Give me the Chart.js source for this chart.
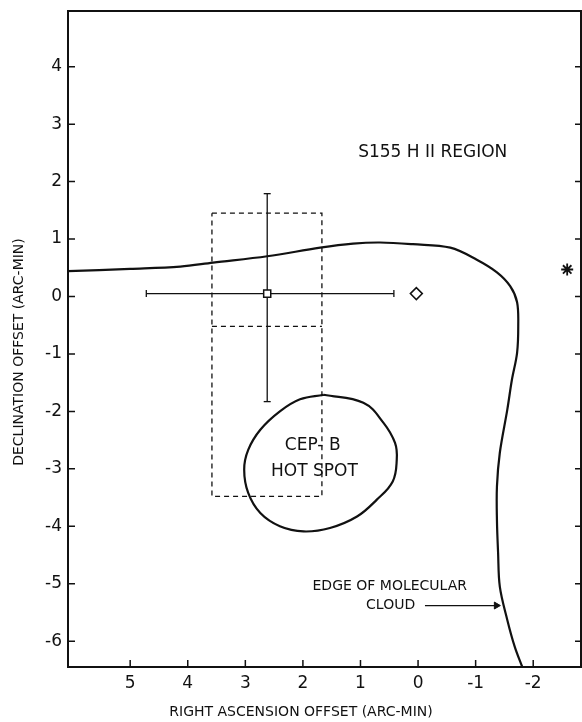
<!DOCTYPE html>
<html>
<head>
<meta charset="utf-8">
<script src="https://cdn.jsdelivr.net/npm/chart.js@4.4.1/dist/chart.umd.min.js"></script>
<style>
  html, body { margin: 0; padding: 0; background: #fff; overflow: hidden; }
  #wrap { position: relative; width: 582px; height: 722px; }
  canvas { display: block; }
</style>
</head>
<body>
<div id="wrap"><canvas id="chart"></canvas></div>
<script>
// axis ranges in arc-min (RA runs right to left)
const xRange = [-2.83, 6.08];
const yRange = [-6.45, 4.97];
const xTicks = [5, 4, 3, 2, 1, 0, -1, -2];
const yTicks = [4, 3, 2, 1, 0, -1, -2, -3, -4, -5, -6];

// edge of molecular cloud
const cloudX = [6.08, 5.0, 4.13, 3.56, 2.62, 1.70, 1.13, 0.66, 0.09, -0.56, -1.02, -1.37, -1.60, -1.72, -1.74, -1.72, -1.63, -1.55, -1.42, -1.37, -1.37, -1.39, -1.42, -1.55, -1.68, -1.81];
const cloudY = [0.44, 0.48, 0.52, 0.59, 0.70, 0.85, 0.92, 0.94, 0.91, 0.85, 0.64, 0.42, 0.18, -0.10, -0.52, -0.98, -1.45, -1.97, -2.72, -3.31, -3.89, -4.46, -5.05, -5.63, -6.10, -6.45];

// Cep-B hot spot outline (closed, starts at the top)
const spotX = [1.64, 0.95, 0.60, 0.40, 0.37, 0.44, 0.72, 1.06, 1.53, 1.99, 2.40, 2.74, 2.95, 3.02, 2.95, 2.74, 2.40, 2.05, 1.64];
const spotY = [-1.71, -1.85, -2.20, -2.55, -2.84, -3.22, -3.54, -3.83, -4.03, -4.09, -4.00, -3.77, -3.42, -3.01, -2.67, -2.32, -2.00, -1.79, -1.71];

// dashed box
const boxX = [3.58, 1.67, 1.67, 3.58, 3.58];
const boxY = [1.45, 1.45, -3.48, -3.48, 1.45];
const boxMidX = [3.58, 1.67];
const boxMidY = [-0.52, -0.52];

// source position with error bars
const srcX = 2.62, srcY = 0.05;
const srcXErr = [4.72, 0.42];
const srcYErr = [1.79, -1.83];

// other markers
const diamondPt = {x: 0.03, y: 0.05};
const starPt = {x: -2.59, y: 0.47};

// arrow to the cloud edge
const arrowX = [-0.12, -1.36];
const arrowY = [-5.38, -5.38];

// labels in data coordinates
const notes = [
  {text: 'S155 H II REGION', x: 1.04, y: 2.5, align: 'left', size: 17},
  {text: 'CEP- B', x: 1.83, y: -2.60, align: 'center', size: 17},
  {text: 'HOT SPOT', x: 1.80, y: -3.04, align: 'center', size: 17},
  {text: 'EDGE OF MOLECULAR', x: -0.85, y: -5.05, align: 'right', size: 14},
  {text: 'CLOUD', x: 0.05, y: -5.38, align: 'right', size: 14}
];

const FONT = "'DejaVu Sans', sans-serif";
const INK = '#111';

const pts = (xs, ys) => xs.map((v, i) => ({x: v, y: ys[i]}));

const framePlugin = {
  id: 'frame',
  afterDraw(chart) {
    const {ctx, chartArea: a, scales: {x, y}} = chart;
    ctx.save();
    ctx.strokeStyle = INK;
    ctx.lineWidth = 2;
    ctx.strokeRect(a.left, a.top, a.right - a.left, a.bottom - a.top);
    ctx.lineWidth = 1.5;
    ctx.beginPath();
    xTicks.forEach(v => {
      const px = x.getPixelForValue(v);
      ctx.moveTo(px, a.bottom);
      ctx.lineTo(px, a.bottom - 7);
    });
    yTicks.forEach(v => {
      const py = y.getPixelForValue(v);
      ctx.moveTo(a.left, py);
      ctx.lineTo(a.left + 7, py);
      ctx.moveTo(a.right, py);
      ctx.lineTo(a.right - 6, py);
    });
    ctx.stroke();

    ctx.fillStyle = INK;
    ctx.textBaseline = 'middle';
    notes.forEach(n => {
      ctx.font = n.size + 'px ' + FONT;
      ctx.textAlign = n.align;
      ctx.fillText(n.text, x.getPixelForValue(n.x), y.getPixelForValue(n.y));
    });

    // axis titles
    ctx.font = '14px ' + FONT;
    ctx.textAlign = 'center';
    ctx.fillText('RIGHT ASCENSION OFFSET (ARC-MIN)', a.left + 233, 712);
    ctx.translate(19, a.top + 341);
    ctx.rotate(-Math.PI / 2);
    ctx.fillText('DECLINATION OFFSET (ARC-MIN)', 0, 0);
    ctx.restore();
  }
};

const ctx = document.getElementById('chart').getContext('2d');
const myChart = new Chart(ctx, {
  type: 'scatter',
  data: {
    datasets: [
      // markers first so they sit on top
      {data: [{x: srcX, y: srcY}], pointStyle: 'rect', pointRadius: 5, pointBackgroundColor: '#fff', pointBorderColor: INK, pointBorderWidth: 1.5},
      {data: [diamondPt], pointStyle: 'rectRot', pointRadius: 6, pointBackgroundColor: '#fff', pointBorderColor: INK, pointBorderWidth: 1.5},
      {data: [starPt], pointStyle: 'star', pointRadius: 6, pointBorderColor: INK, pointBorderWidth: 1.8},
      // error bars
      {data: pts(srcXErr, [srcY, srcY]), showLine: true, borderColor: INK, borderWidth: 1.3, pointStyle: 'line', pointRotation: 90, pointRadius: 3.5, pointBorderColor: INK, pointBorderWidth: 1.3},
      {data: pts([srcX, srcX], srcYErr), showLine: true, borderColor: INK, borderWidth: 1.3, pointStyle: 'line', pointRotation: 0, pointRadius: 3.5, pointBorderColor: INK, pointBorderWidth: 1.3},
      // arrow
      {data: pts(arrowX, arrowY), showLine: true, borderColor: INK, borderWidth: 1.3, pointStyle: 'triangle', pointRotation: 90, pointRadius: [0, 4], pointBackgroundColor: INK, pointBorderColor: INK, pointBorderWidth: 1},
      // dashed box
      {data: pts(boxX, boxY), showLine: true, borderColor: INK, borderWidth: 1.3, borderDash: [5, 4], pointRadius: 0, tension: 0},
      {data: pts(boxMidX, boxMidY), showLine: true, borderColor: INK, borderWidth: 1.3, borderDash: [5, 4], pointRadius: 0, tension: 0},
      // hot spot
      {data: pts(spotX, spotY), showLine: true, borderColor: INK, borderWidth: 2.2, pointRadius: 0, tension: 0.4},
      // cloud edge
      {data: pts(cloudX, cloudY), showLine: true, borderColor: INK, borderWidth: 2.2, pointRadius: 0, tension: 0.35}
    ]
  },
  options: {
    responsive: true,
    maintainAspectRatio: false,
    animation: false,
    layout: {autoPadding: false, padding: {top: 11, right: 1, left: 0, bottom: 0}},
    plugins: {legend: {display: false}, tooltip: {enabled: false}},
    scales: {
      x: {
        type: 'linear',
        reverse: true,
        min: xRange[0],
        max: xRange[1],
        grid: {display: false, drawTicks: false},
        border: {display: false},
        afterBuildTicks: s => { s.ticks = xTicks.map(v => ({value: v})); },
        afterFit: s => { s.height = 55; s.paddingLeft = 0; s.paddingRight = 0; },
        ticks: {
          autoSkip: false,
          padding: 6,
          color: INK,
          font: {family: FONT, size: 17},
          callback: v => String(v)
        }
      },
      y: {
        type: 'linear',
        min: yRange[0],
        max: yRange[1],
        grid: {display: false, drawTicks: false},
        border: {display: false},
        afterBuildTicks: s => { s.ticks = yTicks.map(v => ({value: v})); },
        afterFit: s => { s.width = 68; s.paddingTop = 0; s.paddingBottom = 0; },
        ticks: {
          autoSkip: false,
          padding: 6,
          color: INK,
          font: {family: FONT, size: 17},
          callback: v => String(v)
        }
      }
    }
  },
  plugins: [framePlugin]
});
</script>
</body>
</html>
